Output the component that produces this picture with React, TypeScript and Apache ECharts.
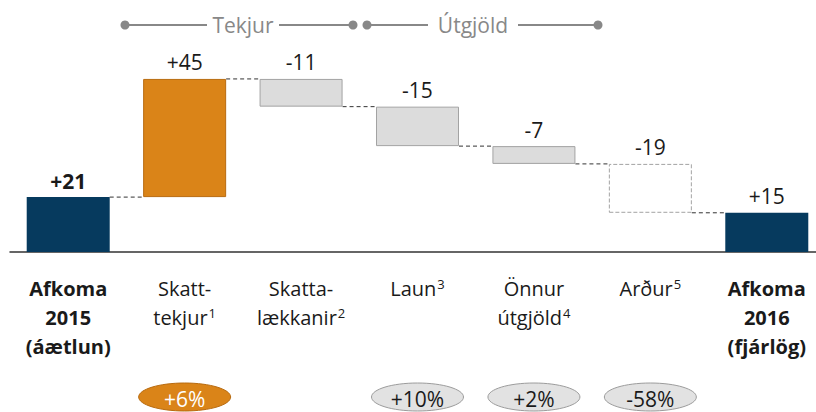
import React, { useEffect, useRef } from "react";
import * as echarts from "echarts";

// ---- data ----
const categories = [
  "Afkoma\n2015\n(áætlun)",
  "Skatt-\ntekjur",
  "Skatta-\nlækkanir",
  "Laun",
  "Önnur\nútgjöld",
  "Arður",
  "Afkoma\n2016\n(fjárlög)",
];
const footnotes = ["", "1", "2", "3", "4", "5", ""];
const startValue = 21;
const deltas = [45.2, -10.6, -15.1, -6.8, -18.7];
const endValue = 15;
const pctChanges = ["", "+6%", "", "+10%", "+2%", "-58%", ""];
const groupLabels = ["Tekjur", "Útgjöld"];

// ---- styles ----
const FONT = "'Open Sans', 'Noto Sans', sans-serif";
const BAR_W = 83;
const NAVY = "#063A5E";
const ORANGE = "#DA8418";
const GRAY = "#DCDCDC";
const GRAY_BORDER = "#A3A3A3";

function fmt(v: number) {
  const r = Math.round(v);
  return (r > 0 ? "+" : "") + r;
}

export default function App() {
  const ref = useRef<HTMLDivElement>(null);
  useEffect(() => {
    if (!ref.current) return;
    const chart = echarts.init(ref.current, null, { renderer: "svg" });

    // waterfall construction
    const bases: number[] = [];
    const heights: number[] = [];
    const shown: number[] = [];
    const levels: number[] = [];
    let level = startValue;
    bases.push(0);
    heights.push(startValue);
    shown.push(startValue);
    levels.push(level);
    deltas.forEach((d) => {
      if (d >= 0) {
        bases.push(level);
        heights.push(d);
      } else {
        bases.push(level + d);
        heights.push(-d);
      }
      shown.push(d);
      level += d;
      levels.push(level);
    });
    bases.push(0);
    heights.push(endValue);
    shown.push(endValue);

    const n = categories.length;
    const itemStyleFor = (i: number) => {
      if (i === 0 || i === n - 1) return { color: NAVY };
      if (i === 1) return { color: ORANGE, borderColor: "#B86B10", borderWidth: 1 };
      if (i === n - 2)
        return { color: "#ffffff", borderColor: GRAY_BORDER, borderWidth: 1, borderType: "dashed" };
      return { color: GRAY, borderColor: GRAY_BORDER, borderWidth: 1 };
    };

    const option: any = {
      animation: false,
      grid: { left: 10, right: -9, top: 69, bottom: 160, outerBoundsMode: "none", containLabel: false },
      xAxis: {
        type: "category",
        data: categories,
        axisLine: { lineStyle: { color: "#333", width: 1.5 } },
        axisTick: { show: false },
        axisLabel: {
          interval: 0,
          margin: 22,
          color: "#1a1a1a",
          formatter: (value: string, idx: number) => {
            const st = idx === 0 || idx === n - 1 ? "b" : "n";
            const lines = value.split("\n");
            return lines
              .map(
                (l, li) =>
                  `{${st}|${l}}` +
                  (li === lines.length - 1 && footnotes[idx] ? `{sup|${footnotes[idx]}}` : "")
              )
              .join("\n");
          },
          rich: {
            n: { fontSize: 20, lineHeight: 29, fontFamily: FONT, color: "#1a1a1a" },
            b: { fontSize: 20, lineHeight: 29, fontFamily: FONT, fontWeight: "bold", color: "#1a1a1a" },
            sup: {
              fontSize: 13,
              verticalAlign: "top",
              padding: [3, 0, 0, 1],
              fontFamily: FONT,
              color: "#1a1a1a",
            },
          },
        },
      },
      yAxis: { type: "value", min: 0, max: 70, show: false, splitLine: { show: false } },
      series: [
        {
          type: "bar",
          stack: "w",
          barWidth: BAR_W,
          silent: true,
          itemStyle: { color: "transparent" },
          data: bases,
        },
        {
          type: "bar",
          stack: "w",
          barWidth: BAR_W,
          data: heights.map((h, i) => ({
            value: h,
            itemStyle: itemStyleFor(i),
            label: {
              show: true,
              position: "top",
              distance: 6,
              formatter: fmt(shown[i]),
              fontFamily: FONT,
              fontSize: 21,
              fontWeight: i === 0 ? "bold" : "normal",
              color: "#1a1a1a",
            },
          })),
        },
        {
          type: "custom",
          data: levels.map((l, i) => [i, l]),
          encode: { x: 0, y: 1 },
          z: 5,
          renderItem: (params: any, api: any) => {
            const i = api.value(0);
            const lv = api.value(1);
            const p1 = api.coord([i, lv]);
            const p2 = api.coord([i + 1, lv]);
            return {
              type: "line",
              shape: { x1: p1[0] + BAR_W / 2, y1: p1[1], x2: p2[0] - BAR_W / 2, y2: p2[1] },
              style: { stroke: "#333", lineWidth: 1, lineDash: [4, 3] },
            };
          },
        },
      ],
    };
    chart.setOption(option);

    // percentage ellipses below categories
    const graphics: any[] = [];
    pctChanges.forEach((p, i) => {
      if (!p) return;
      const x = chart.convertToPixel({ xAxisIndex: 0 }, categories[i]) as unknown as number;
      const orange = i === 1;
      graphics.push({
        type: "ellipse",
        shape: { cx: x, cy: 397, rx: 46, ry: 14 },
        style: {
          fill: orange ? ORANGE : "#E2E2E2",
          stroke: orange ? "#B86B10" : "#9C9C9C",
          lineWidth: 1,
        },
      });
      graphics.push({
        type: "text",
        x,
        y: 399,
        style: {
          text: p,
          fill: orange ? "#ffffff" : "#1a1a1a",
          font: `21px ${FONT}`,
          align: "center",
          verticalAlign: "middle",
        },
      });
    });

    // group brackets at top
    const hdrY = 25;
    const gcol = "#888888";
    const seg = (x1: number, x2: number) => ({
      type: "line",
      shape: { x1, y1: hdrY, x2, y2: hdrY },
      style: { stroke: gcol, lineWidth: 2 },
    });
    const dot = (cx: number) => ({ type: "circle", shape: { cx, cy: hdrY, r: 4.5 }, style: { fill: gcol } });
    graphics.push(seg(125, 207), seg(279, 353), seg(367, 428), seg(518, 598));
    graphics.push(dot(125), dot(353), dot(367), dot(598));
    graphics.push({
      type: "text",
      x: 243,
      y: hdrY,
      style: { text: groupLabels[0], fill: gcol, font: `21px ${FONT}`, align: "center", verticalAlign: "middle" },
    });
    graphics.push({
      type: "text",
      x: 473,
      y: hdrY,
      style: { text: groupLabels[1], fill: gcol, font: `21px ${FONT}`, align: "center", verticalAlign: "middle" },
    });

    chart.setOption({ graphic: graphics });

    return () => chart.dispose();
  }, []);
  return (
    <div
      ref={ref}
      style={{ position: "fixed", left: 0, top: 0, width: 816, height: 412, background: "#fff" }}
    />
  );
}
